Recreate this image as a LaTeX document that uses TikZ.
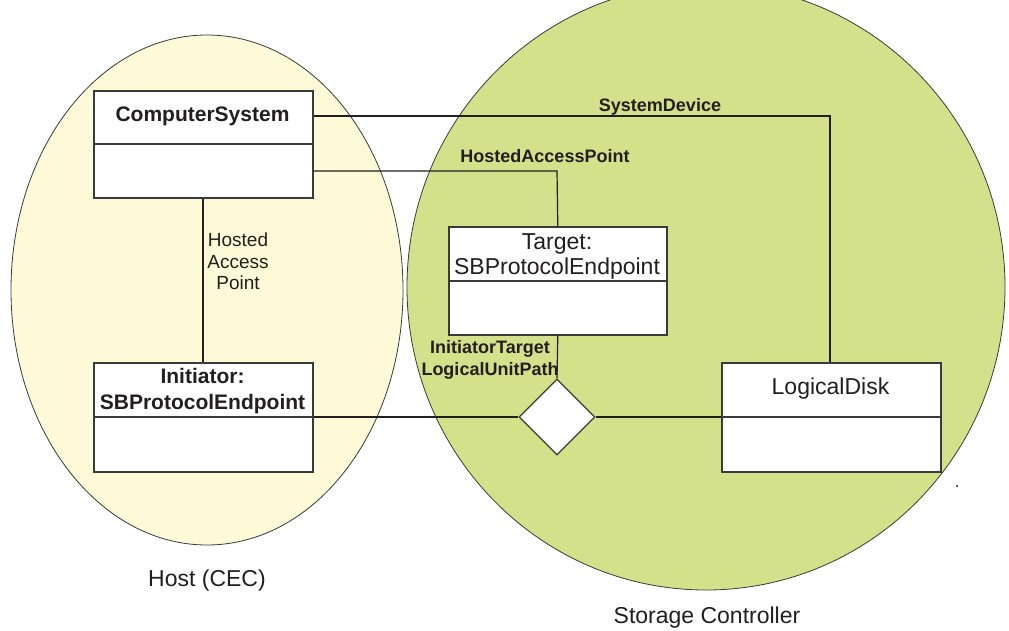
\documentclass[tikz,border=0pt]{standalone}
\usepackage{fontspec}
\setmainfont{Liberation Sans}
\usetikzlibrary{shapes.geometric}
\definecolor{hostfill}{HTML}{FEF9D6}
\definecolor{scfill}{HTML}{D3E28A}
\definecolor{ink}{HTML}{231F20}
\definecolor{edgecol}{HTML}{3A3A3A}
\begin{document}
\begin{tikzpicture}[x=1pt,y=-1pt,
  umlbox/.style={draw=edgecol, line width=1.6pt, fill=white, rectangle, inner sep=0pt, anchor=north west},
  sepline/.style={draw=edgecol, line width=1.2pt},
  conn/.style={draw=ink, line width=1.2pt},
  region/.style={draw=edgecol, line width=0.8pt},
  boldlbl/.style={font=\fontsize{18}{22}\selectfont\bfseries, text=ink, inner sep=0pt, align=center},
  boxbold/.style={font=\fontsize{21}{26}\selectfont\bfseries, text=ink, inner sep=0pt, align=center},
  boxreg/.style={font=\fontsize{23}{25}\selectfont, text=ink, inner sep=0pt, align=center},
  caption/.style={font=\fontsize{23}{27}\selectfont, text=ink, inner sep=0pt, anchor=base},
  smalllbl/.style={font=\fontsize{19}{21.5}\selectfont, text=ink, inner sep=0pt, align=center}
]
\useasboundingbox (0,0) rectangle (1009,631);
% regions
\draw[region, fill=hostfill] (207,290) ellipse [x radius=196, y radius=255];
\draw[region, fill=scfill] (706,287) ellipse [x radius=299, y radius=303];
\fill[ink] (957,486) circle [radius=1.1];

% boxes
\node[umlbox, minimum width=219pt, minimum height=107pt] (cs) at (93,90) {};
\node[umlbox, minimum width=219pt, minimum height=109pt] (ini) at (93,362) {};
\node[umlbox, minimum width=218pt, minimum height=108pt] (tg) at (448,226) {};
\node[umlbox, minimum width=219pt, minimum height=109pt] (ld) at (721,362) {};

% compartment separators
\coordinate (csy) at (0,144);
\coordinate (iniy) at (0,417);
\coordinate (tgy) at (0,281);
\draw[sepline] (cs.west |- csy) -- (cs.east |- csy);
\draw[sepline] (ini.west |- iniy) -- (ini.east |- iniy);
\draw[sepline] (tg.west |- tgy) -- (tg.east |- tgy);
\draw[sepline] (ld.west |- iniy) -- (ld.east |- iniy);

% box texts
\node[boxbold, anchor=base] (cst) at (202.5,122) {ComputerSystem};
\node[boxbold] (init) at (202.5,390.6) {Initiator:\\SBProtocolEndpoint};
\node[boxreg] (tgt) at (557,256.7) {Target:\\SBProtocolEndpoint};
\node[boxreg, anchor=base] (ldt) at (830.5,394) {LogicalDisk};

% diamond
\node[diamond, draw=edgecol, line width=1.2pt, fill=white, minimum width=76pt, minimum height=76pt, inner sep=0pt] (dm) at (557,417) {};

% connectors
\coordinate (sd) at (830,116);
\draw[conn] (cs.east |- sd) -- (sd) -- (ld.north -| sd);
\coordinate (hap) at (557,171);
\draw[conn] (cs.east |- hap) -- (hap) -- (tg.north);
\coordinate (hv) at (203,0);
\draw[conn] (cs.south -| hv) -- (ini.north -| hv);
\draw[conn] (tg.south) -- (dm.north);
\draw[conn] (ini.east |- dm.west) -- (dm.west);
\draw[conn] (dm.east) -- (ld.west |- dm.east);

% connector labels
\node[boldlbl, anchor=base] (sdl) at (660,112) {SystemDevice};
\node[boldlbl, anchor=base] (hapl) at (545,163) {HostedAccessPoint};
\node[boldlbl] (itl) at (490,359.5) {InitiatorTarget\\LogicalUnitPath};
\node[smalllbl] (hvl) at (238,261.5) {Hosted\\Access\\Point};

% captions
\node[caption] (host) at (207,586) {Host (CEC)};
\node[caption] (sc) at (707,623) {Storage Controller};
\end{tikzpicture}
\end{document}
